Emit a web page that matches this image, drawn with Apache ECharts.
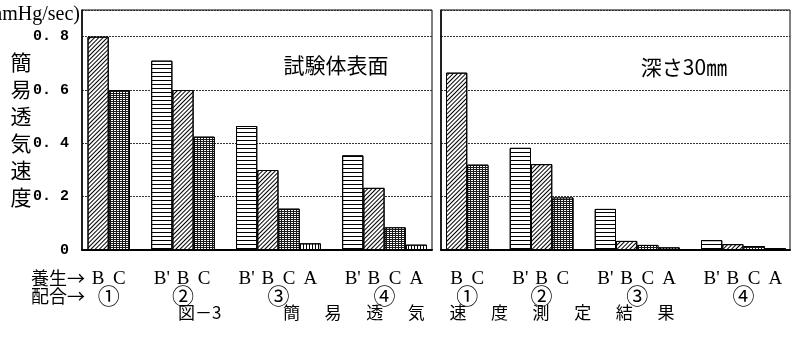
<!DOCTYPE html>
<html>
<head>
<meta charset="utf-8">
<script src="https://cdn.jsdelivr.net/npm/echarts@6/dist/echarts.min.js"></script>
<style>
  html, body { margin: 0; padding: 0; background: #fff; }
  #chart { width: 797px; height: 348px; }
</style>
</head>
<body>
<div id="chart"></div>
<script>
  // 配合 (mix) and the curing conditions measured for each mix
  const mixes = ['①', '②', '③', '④'];
  const curing = [
    ['B', 'C'],
    ["B'", 'B', 'C'],
    ["B'", 'B', 'C', 'A'],
    ["B'", 'B', 'C', 'A']
  ];
  // 簡易透気速度 (mmHg/sec)
  const surface = [
    [0.80, 0.60],
    [0.71, 0.60, 0.425],
    [0.465, 0.30, 0.155, 0.025],
    [0.355, 0.233, 0.085, 0.02]
  ];
  const depth30 = [
    [0.665, 0.32],
    [0.383, 0.322, 0.197],
    [0.154, 0.034, 0.019, 0.01],
    [0.037, 0.022, 0.015, 0.007]
  ];
  const yTicks = [0, 0.2, 0.4, 0.6, 0.8];
  const cureTypes = ["B'", 'B', 'C', 'A'];

  // hatch style per curing condition
  const hatch = {
    "B'": { color: '#fff', decal: { symbol: 'rect', symbolSize: 1, color: '#000', dashArrayX: [1, 0], dashArrayY: [1, 2.5] } },
    'B': { color: '#fff', decal: { symbol: 'rect', symbolSize: 1, color: '#000', dashArrayX: [1, 0], dashArrayY: [1, 1.6], rotation: -Math.PI / 4 } },
    'C': { color: '#1a1a1a', decal: { symbol: 'rect', symbolSize: 1, color: '#fff', dashArrayX: [2, 1], dashArrayY: [1, 1] } },
    'A': { color: '#fff', decal: { symbol: 'rect', symbolSize: 1, color: '#000', dashArrayX: [1, 2], dashArrayY: [1, 0] } }
  };

  // slots along the x axis: one per bar, an empty one between mixes
  let slots = [];
  let mixCenter = {};
  curing.forEach(function (list, g) {
    let first = slots.length;
    list.forEach(function (c) {
      slots.push({ key: g + '|' + c, cure: c, g: g });
    });
    mixCenter[((first + slots.length - 1) / 2).toFixed(1)] = mixes[g];
    if (g < curing.length - 1) slots.push({ key: 'gap' + g, cure: '', g: -1 });
  });
  let cats = slots.map(function (s) { return s.key; });

  const serif = "'Liberation Serif', 'Noto Sans CJK JP'";
  const cjk = "'Noto Sans CJK JP'";

  // each panel: an outer grid (frame, y axis, grid lines) and an inner grid for the bars
  function panelAxes(p) {
    let outer = p * 2, inner = p * 2 + 1;
    let xs = [{
      type: 'value', gridIndex: outer, min: 0, max: 1,
      axisLine: { onZero: false, lineStyle: { color: '#000', width: 2 } },
      axisTick: { show: false }, axisLabel: { show: false }, splitLine: { show: false }
    }, {
      type: 'category', gridIndex: inner, data: cats,
      axisLine: { show: false }, axisTick: { show: false },
      axisLabel: {
        interval: 0, margin: 20, color: '#000', fontSize: 19, fontFamily: serif,
        formatter: function (v) { return v.indexOf('|') > 0 ? v.split('|')[1] : ''; }
      }
    }, {
      type: 'value', gridIndex: inner, position: 'bottom',
      min: -0.5, max: cats.length - 0.5, interval: 0.5,
      axisLine: { show: false }, axisTick: { show: false }, splitLine: { show: false },
      axisLabel: {
        margin: 35, color: '#000', fontSize: 22, fontFamily: cjk, showMinLabel: true, showMaxLabel: true,
        formatter: function (v) { return mixCenter[v.toFixed(1)] || ''; }
      }
    }];
    let ys = [{
      type: 'value', gridIndex: outer, min: 0, max: 0.9, interval: 0.2,
      axisLine: { show: true, onZero: false, lineStyle: { color: '#000', width: 1.5 } },
      axisTick: { show: false },
      splitLine: { lineStyle: { color: '#333', type: [2, 1], width: 1 } },
      axisLabel: {
        show: p === 0, margin: 13, color: '#000', fontSize: 15, fontWeight: 'bold',
        fontFamily: "'Liberation Mono', monospace",
        formatter: function (v) {
          if (yTicks.indexOf(Math.round(v * 10) / 10) < 0) return '';
          return v === 0 ? '0' : v.toFixed(1).replace('.', '. ');
        }
      }
    }, {
      type: 'value', gridIndex: inner, min: 0, max: 0.9, show: false
    }];
    return { xs: xs, ys: ys };
  }

  function buildSeries(values, p) {
    return cureTypes.map(function (c) {
      let data = slots.map(function (s) {
        if (s.cure !== c) return null;
        return values[s.g][curing[s.g].indexOf(c)];
      });
      return {
        name: c, type: 'bar', stack: 'p' + p,
        xAxisIndex: p * 3 + 1, yAxisIndex: p * 2 + 1,
        barCategoryGap: '0%',
        itemStyle: Object.assign({ borderColor: '#000', borderWidth: 1 }, hatch[c]),
        data: data
      };
    });
  }

  let a0 = panelAxes(0), a1 = panelAxes(1);

  const titleChars = '簡易透気速度測定結果'.split('');
  let graphics = [
    { type: 'text', x: 80, y: 15, style: { text: '(mmHg/sec)', align: 'right', verticalAlign: 'middle', font: '20px ' + serif, fill: '#000' } },
    { type: 'text', x: 21, y: 130, style: { text: '簡\n易\n透\n気\n速\n度', align: 'center', verticalAlign: 'middle', lineHeight: 27, font: '21px ' + cjk, fill: '#000' } },
    { type: 'text', x: 31, y: 278, style: { text: '養生→', verticalAlign: 'middle', font: '18px ' + cjk, fill: '#000' } },
    { type: 'text', x: 31, y: 296, style: { text: '配合→', verticalAlign: 'middle', font: '18px ' + cjk, fill: '#000' } },
    { type: 'text', x: 336, y: 65, style: { text: '試験体表面', align: 'center', verticalAlign: 'middle', font: '21px ' + cjk, fill: '#000' } },
    { type: 'text', x: 684, y: 67, style: { text: '深さ30㎜', align: 'center', verticalAlign: 'middle', font: '21px ' + cjk, fill: '#000' } },
    { type: 'text', x: 178, y: 313, style: { text: '図－3', verticalAlign: 'middle', font: '17px ' + cjk, fill: '#000' } }
  ];
  titleChars.forEach(function (ch, i) {
    graphics.push({ type: 'text', x: 283 + i * 41.6, y: 313, style: { text: ch, verticalAlign: 'middle', font: '17px ' + cjk, fill: '#000' } });
  });

  let chart = echarts.init(document.getElementById('chart'), null, { renderer: 'canvas' });
  chart.setOption({
    animation: false,
    backgroundColor: '#fff',
    grid: [
      { left: 82, top: 10, width: 350, height: 240, show: true, borderColor: '#000', borderWidth: 1 },
      { left: 87.5, top: 10, width: 339.5, height: 240 },
      { left: 441, top: 10, width: 349, height: 240, show: true, borderColor: '#000', borderWidth: 1 },
      { left: 446, top: 10, width: 340, height: 240 }
    ],
    xAxis: a0.xs.concat(a1.xs),
    yAxis: a0.ys.concat(a1.ys),
    series: buildSeries(surface, 0).concat(buildSeries(depth30, 1)),
    graphic: graphics
  });
</script>
</body>
</html>
